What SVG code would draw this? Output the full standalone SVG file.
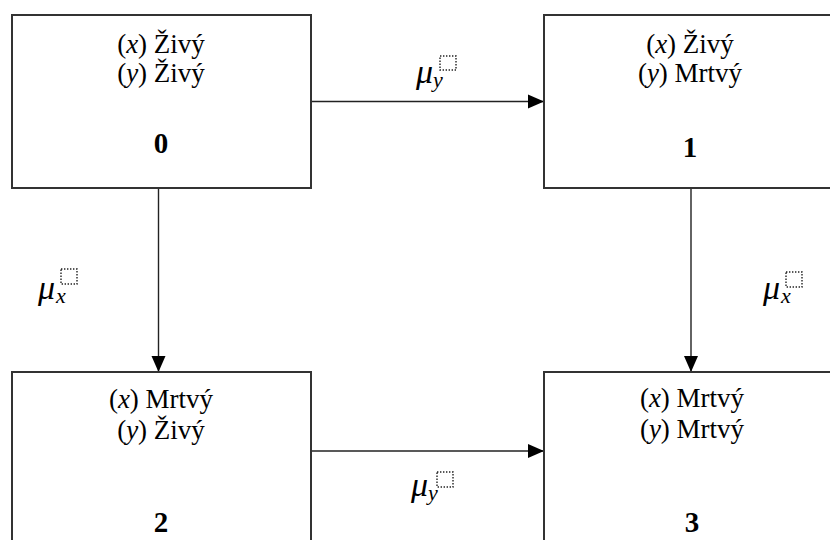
<svg xmlns="http://www.w3.org/2000/svg" width="830" height="540" viewBox="0 0 830 540">
<defs>
<style>
.box{fill:#fff;stroke:#333;stroke-width:2}
.t{font-family:'Liberation Serif','Times New Roman',serif;font-size:27px;fill:#000;text-anchor:middle}
.n{font-family:'Liberation Serif','Times New Roman',serif;font-size:29px;font-weight:bold;fill:#000;text-anchor:middle}
.c{stroke:#222;stroke-width:1.4;fill:none}
.mu{font-family:'Liberation Serif','Times New Roman',serif;font-style:italic;font-size:34px;fill:#000}
.sub{font-family:'Liberation Serif','Times New Roman',serif;font-style:italic;font-size:22px;fill:#000}
.ph{fill:none;stroke:#222;stroke-width:1.4;stroke-dasharray:1.4 1.6}
</style>
<marker id="ah" markerUnits="userSpaceOnUse" markerWidth="16" markerHeight="16" viewBox="0 0 16 16" refX="16" refY="8" orient="auto">
<path d="M0,1 L16,8 L0,15 Z" fill="#000"/>
</marker>
</defs>
<g id="connectors">
<line class="c" x1="311" y1="101.5" x2="544" y2="101.5" marker-end="url(#ah)"/>
<line class="c" x1="158.5" y1="188" x2="158.5" y2="372" marker-end="url(#ah)"/>
<line class="c" x1="691" y1="188" x2="691" y2="372" marker-end="url(#ah)"/>
<line class="c" x1="311" y1="451" x2="544" y2="451" marker-end="url(#ah)"/>
</g>
<g id="node0">
<rect class="box" x="12" y="15" width="299" height="173"/>
<text class="t" x="161" y="53">(<tspan font-style="italic">x</tspan>) Živý</text>
<text class="t" x="161" y="82">(<tspan font-style="italic">y</tspan>) Živý</text>
<text class="n" x="161" y="153">0</text>
</g>
<g id="node1">
<rect class="box" x="544" y="15" width="292" height="173"/>
<text class="t" x="690" y="53">(<tspan font-style="italic">x</tspan>) Živý</text>
<text class="t" x="690" y="82">(<tspan font-style="italic">y</tspan>) Mrtvý</text>
<text class="n" x="690" y="157">1</text>
</g>
<g id="node2">
<rect class="box" x="12" y="372" width="299" height="175"/>
<text class="t" x="161" y="408">(<tspan font-style="italic">x</tspan>) Mrtvý</text>
<text class="t" x="161" y="439">(<tspan font-style="italic">y</tspan>) Živý</text>
<text class="n" x="161" y="532">2</text>
</g>
<g id="node3">
<rect class="box" x="544" y="372" width="292" height="175"/>
<text class="t" x="692" y="407">(<tspan font-style="italic">x</tspan>) Mrtvý</text>
<text class="t" x="692" y="438">(<tspan font-style="italic">y</tspan>) Mrtvý</text>
<text class="n" x="692" y="532">3</text>
</g>
<g id="label-top" transform="translate(416,83)">
<text class="mu" x="0" y="0">μ</text><text class="sub" x="17" y="4">y</text><rect class="ph" x="24" y="-27" width="16" height="14"/>
</g>
<g id="label-left" transform="translate(38,299)">
<text class="mu" x="0" y="0">μ</text><text class="sub" x="18" y="4">x</text><rect class="ph" x="23" y="-30" width="16" height="15"/>
</g>
<g id="label-right" transform="translate(763,299)">
<text class="mu" x="0" y="0">μ</text><text class="sub" x="18" y="4">x</text><rect class="ph" x="23" y="-27" width="16" height="15"/>
</g>
<g id="label-bottom" transform="translate(411,496)">
<text class="mu" x="0" y="0">μ</text><text class="sub" x="17" y="4">y</text><rect class="ph" x="26" y="-24" width="16" height="15"/>
</g>
</svg>
